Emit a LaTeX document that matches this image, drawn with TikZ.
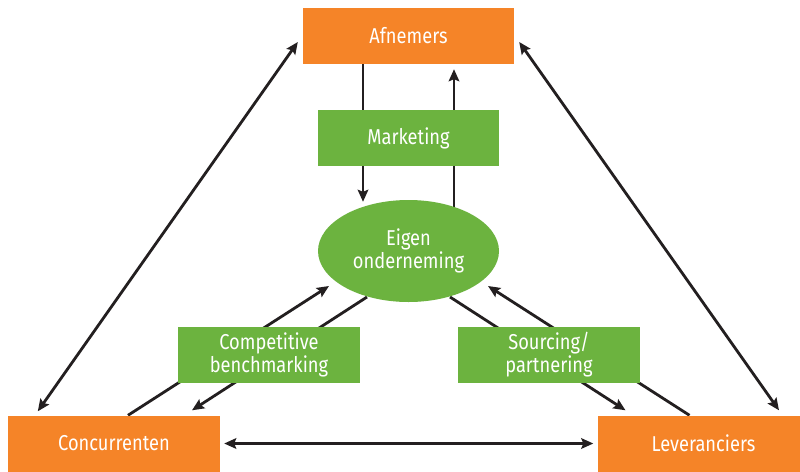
\documentclass[tikz,border=0pt]{standalone}
\usepackage{fontspec}
\setmainfont[FakeStretch=0.85]{Fira Sans}
\usetikzlibrary{arrows.meta,shapes.geometric,backgrounds}
\definecolor{orng}{HTML}{F58428}
\definecolor{grn}{HTML}{6CB33F}
\definecolor{ink}{HTML}{231F20}
\tikzset{
  base/.style={inner sep=0pt, text=white, font=\fontsize{21.5}{23}\selectfont, align=center},
  obox/.style={base, fill=orng, minimum width=212pt, minimum height=56pt},
  gbox/.style={base, fill=grn, minimum width=182pt, minimum height=56pt},
  gell/.style={base, ellipse, fill=grn, minimum width=181pt, minimum height=102pt},
  conn/.style={draw=ink, line width=2.8pt},
  arr/.style={conn, -{Stealth[length=12pt,width=10.5pt,inset=2pt]}},
  darr/.style={conn, {Stealth[length=12pt,width=10.5pt,inset=2pt]}-{Stealth[length=12pt,width=10.5pt,inset=2pt]}}
}
\begin{document}
\begin{tikzpicture}[x=1pt,y=-1pt]
\useasboundingbox (0,0) rectangle (800,471);
\clip (0,0) rectangle (800,471);

\node[obox, minimum width=211pt] (afn) at (408.5,36) {Afnemers};
\node[gbox, minimum width=181pt] (mkt) at (408.5,138) {Marketing};
\node[gell] (eig) at (408.5,251) {Eigen\\onderneming};
\node[gbox] (cb) at (269,355) {Competitive\\benchmarking};
\node[gbox] (sp) at (549,355) {Sourcing/\\partnering};
\node[obox] (conc) at (114,443.5) {Concurrenten};
\node[obox] (lev) at (703.5,443.5) {Leveranciers};

\begin{scope}[on background layer]
  \fill[white] (0,0) rectangle (800,471);
  % Afnemers <-> Eigen onderneming via Marketing
  \draw[arr] ([xshift=-45.5pt]afn.south) -- ([xshift=-45.5pt,yshift=-2pt]eig.north);
  \draw[arr] ([xshift=45.5pt,yshift=-7pt]eig.north) -- ([xshift=45.5pt,yshift=-5pt]afn.south);
  % outer triangle
  \draw[darr] ([xshift=-5pt,yshift=-6pt]afn.west) -- ([xshift=30pt,yshift=4pt]conc.north west);
  \draw[darr] ([xshift=5pt,yshift=-6pt]afn.east) -- ([xshift=75.5pt,yshift=5pt]lev.north);
  \draw[darr] ([xshift=4pt]conc.east) -- ([xshift=-4pt]lev.west);
  % Competitive benchmarking
  \draw[arr] ([xshift=14pt]conc.north) -- ([xshift=-79.5pt,yshift=-35pt]eig.center);
  \draw[arr] ([xshift=-41.5pt,yshift=-46pt]eig.center) -- ([xshift=78pt,yshift=5pt]conc.north);
  % Sourcing/partnering
  \draw[arr] ([xshift=-14pt]lev.north) -- ([xshift=79.5pt,yshift=-35pt]eig.center);
  \draw[arr] ([xshift=41.5pt,yshift=-46pt]eig.center) -- ([xshift=-78pt,yshift=5pt]lev.north);
\end{scope}
\end{tikzpicture}
\end{document}
